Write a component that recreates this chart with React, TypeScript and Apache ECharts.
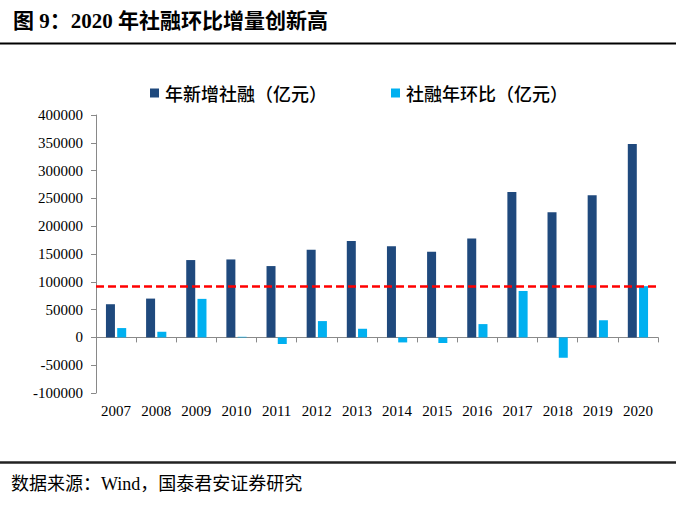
import React, { useEffect, useRef } from "react";
import * as echarts from "echarts";

const categories = ["2007", "2008", "2009", "2010", "2011", "2012", "2013", "2014", "2015", "2016", "2017", "2018", "2019", "2020"];
const newTSF = [59663, 69802, 139104, 140191, 128286, 157631, 173169, 164133, 154086, 178022, 261536, 224920, 255753, 347917];
const tsfChange = [16800, 10139, 69302, 1087, -11905, 29345, 15538, -9036, -10047, 23936, 83514, -36616, 30833, 92164];
const refLine = 92164;
const seriesNames = ["年新增社融（亿元）", "社融年环比（亿元）"];
const titleText = "图 9：2020 年社融环比增量创新高";
const sourceText = "数据来源：Wind，国泰君安证券研究";

const SERIF = "'Liberation Serif', 'Times New Roman', 'Noto Sans CJK SC', serif";
const CJK = "'Noto Sans CJK SC', 'Liberation Sans', sans-serif";

export default function App() {
  const ref = useRef<HTMLDivElement>(null);
  useEffect(() => {
    if (!ref.current) return;
    const chart = echarts.init(ref.current, null, { renderer: "svg" });
    chart.setOption({
      animation: false,
      backgroundColor: "#ffffff",
      grid: { left: 96, right: 42, top: 115, bottom: 122, containLabel: false },
      legend: {
        left: 150,
        top: 84,
        padding: 0,
        itemWidth: 9,
        itemHeight: 9,
        itemGap: 64,
        icon: "rect",
        textStyle: { fontFamily: CJK, fontSize: 18, color: "#000", fontWeight: 500, padding: [0, 0, 0, 1] },
        data: seriesNames,
      },
      xAxis: [
        {
          type: "category",
          data: categories,
          axisLine: { onZero: true, lineStyle: { color: "#898989", width: 1 } },
          axisTick: { show: true, length: 5, lineStyle: { color: "#898989" } },
          axisLabel: { show: false },
          splitLine: { show: false },
        },
        {
          type: "category",
          data: categories,
          position: "bottom",
          axisLine: { show: false, onZero: false },
          axisTick: { show: false },
          axisLabel: { show: true, margin: 10, fontFamily: SERIF, fontSize: 15, color: "#000" },
          splitLine: { show: false },
        },
      ],
      yAxis: {
        type: "value",
        min: -100000,
        max: 400000,
        interval: 50000,
        axisLine: { show: true, lineStyle: { color: "#898989" } },
        axisTick: { show: true, length: 5, lineStyle: { color: "#898989" } },
        axisLabel: {
          margin: 13,
          fontFamily: SERIF,
          fontSize: 15,
          color: "#000",
          formatter: (v: number) => String(v),
        },
        splitLine: { show: false },
      },
      series: [
        {
          name: seriesNames[0],
          type: "bar",
          xAxisIndex: 0,
          data: newTSF,
          barWidth: 9,
          barGap: "25%",
          itemStyle: { color: "#1F497D" },
          markLine: {
            silent: true,
            symbol: "none",
            label: { show: false },
            lineStyle: { color: "#FF0000", type: [8, 4], width: 2.5 },
            data: [{ yAxis: refLine }],
          },
        },
        {
          name: seriesNames[1],
          type: "bar",
          xAxisIndex: 0,
          data: tsfChange,
          barWidth: 9,
          itemStyle: { color: "#00B0F0" },
        },
      ],
      graphic: [
        {
          type: "text",
          left: 13,
          top: 10,
          style: { text: titleText, fontFamily: SERIF, fontSize: 21, fontWeight: "bold", fill: "#000" },
        },
        {
          type: "line",
          shape: { x1: 0, y1: 43.5, x2: 676, y2: 43.5 },
          style: { stroke: "#000", lineWidth: 2 },
        },
        {
          type: "line",
          shape: { x1: 0, y1: 462.5, x2: 676, y2: 462.5 },
          style: { stroke: "#222", lineWidth: 2.5 },
        },
        {
          type: "text",
          left: 11,
          top: 475,
          style: { text: sourceText, fontFamily: SERIF, fontSize: 18, fill: "#000" },
        },
      ],
    });
    return () => chart.dispose();
  }, []);
  return <div ref={ref} style={{ position: "fixed", left: 0, top: 0, width: 700, height: 515 }} />;
}
